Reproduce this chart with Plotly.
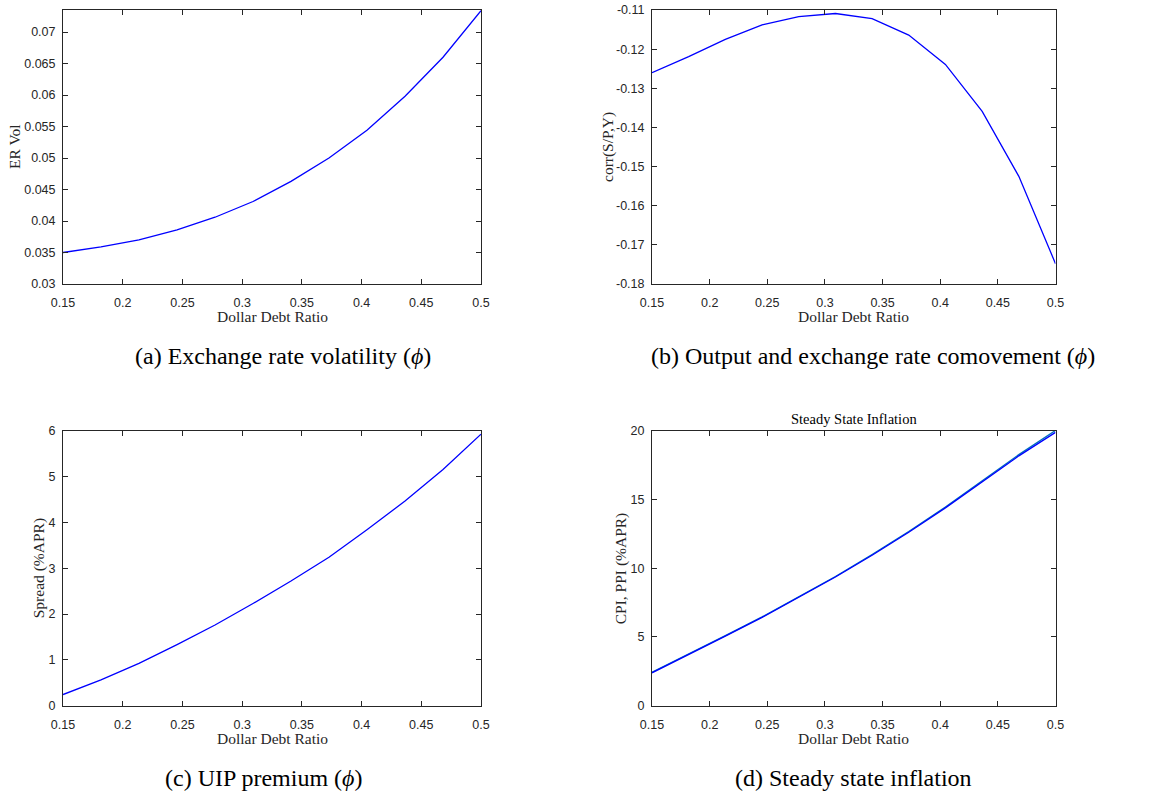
import plotly.graph_objects as go

# Dollar debt ratio grid (12 points, 0.15 .. 0.5)
dollar_debt_ratio = [0.15, 0.1818, 0.2136, 0.2455, 0.2773, 0.3091,
                     0.3409, 0.3727, 0.4045, 0.4364, 0.4682, 0.5]

er_vol = [0.0350, 0.0359, 0.0370, 0.0386, 0.0406, 0.0431,
          0.0463, 0.0500, 0.0544, 0.0598, 0.0660, 0.0734]

corr_sp_y = [-0.1260, -0.1219, -0.1175, -0.1138, -0.1117, -0.1109,
             -0.1122, -0.1164, -0.1239, -0.1359, -0.1525, -0.1748]

uip_spread = [0.24, 0.56, 0.92, 1.33, 1.76, 2.23,
              2.72, 3.24, 3.84, 4.47, 5.16, 5.93]

cpi_infl = [2.42, 3.74, 5.09, 6.46, 7.90, 9.40,
            11.00, 12.68, 14.46, 16.34, 18.28, 20.04]
ppi_infl = [2.38, 3.70, 5.05, 6.42, 7.86, 9.36,
            10.95, 12.62, 14.40, 16.27, 18.19, 19.90]

x_ticks = [0.15, 0.2, 0.25, 0.3, 0.35, 0.4, 0.45, 0.5]
x_ticktext = ["0.15", "0.2", "0.25", "0.3", "0.35", "0.4", "0.45", "0.5"]

W, H = 1150, 794

def px_x(p):
    return p / W

def px_y(p):
    return 1 - p / H

# Panel boxes in pixels: (left, right, top, bottom)
boxes = {
    "a": (63, 481, 10, 284),
    "b": (652, 1055.5, 10, 284),
    "c": (63, 481, 431, 705.5),
    "d": (652, 1055.5, 431, 705.5),
}

AX_COLOR = "#262626"
TICK_FONT = dict(family="Liberation Sans, Arial, sans-serif", size=12.5, color=AX_COLOR)
LABEL_FONT = dict(family="Liberation Serif, Times New Roman, serif", size=15.5, color=AX_COLOR)
CAP_FONT = dict(family="Liberation Serif, Times New Roman, serif", size=24, color="#000000")

fig = go.Figure()

panels = [
    ("a", [er_vol], ["#0000FF"], [0.03, 0.0735],
     [0.03, 0.035, 0.04, 0.045, 0.05, 0.055, 0.06, 0.065, 0.07],
     ["0.03", "0.035", "0.04", "0.045", "0.05", "0.055", "0.06", "0.065", "0.07"],
     "ER Vol", "(a) Exchange rate volatility (<i>ϕ</i>)"),
    ("b", [corr_sp_y], ["#0000FF"], [-0.18, -0.11],
     [-0.18, -0.17, -0.16, -0.15, -0.14, -0.13, -0.12, -0.11],
     ["-0.18", "-0.17", "-0.16", "-0.15", "-0.14", "-0.13", "-0.12", "-0.11"],
     "corr(S/P,Y)", "(b) Output and exchange rate comovement (<i>ϕ</i>)"),
    ("c", [uip_spread], ["#0000FF"], [0, 6],
     [0, 1, 2, 3, 4, 5, 6], ["0", "1", "2", "3", "4", "5", "6"],
     "Spread (%APR)", "(c) UIP premium (<i>ϕ</i>)"),
    ("d", [cpi_infl, ppi_infl], ["#0072BD", "#0000FF"], [0, 20],
     [0, 5, 10, 15, 20], ["0", "5", "10", "15", "20"],
     "CPI, PPI (%APR)", "(d) Steady state inflation"),
]

for i, (key, series, colors, yr, yt, ytt, ytitle, caption) in enumerate(panels, start=1):
    left, right, top, bottom = boxes[key]
    xa = "x" if i == 1 else f"x{i}"
    ya = "y" if i == 1 else f"y{i}"
    for s, c in zip(series, colors):
        fig.add_trace(go.Scatter(
            x=dollar_debt_ratio, y=s, mode="lines",
            line=dict(color=c, width=1.3),
            xaxis=xa, yaxis=ya, showlegend=False, hoverinfo="x+y",
        ))
    axis_common = dict(
        showline=True, linecolor=AX_COLOR, linewidth=1, mirror="ticks",
        ticks="inside", ticklen=5, tickcolor=AX_COLOR, tickwidth=1,
        showgrid=False, zeroline=False, tickfont=TICK_FONT, automargin=False,
    )
    fig.update_layout(**{
        ("xaxis" if i == 1 else f"xaxis{i}"): dict(
            domain=[px_x(left), px_x(right)], anchor=ya,
            range=[0.15, 0.5], tickvals=x_ticks, ticktext=x_ticktext,
            ticklabelstandoff=7, **axis_common),
        ("yaxis" if i == 1 else f"yaxis{i}"): dict(
            domain=[px_y(bottom), px_y(top)], anchor=xa,
            range=yr, tickvals=yt, ticktext=ytt,
            ticklabelstandoff=4, **axis_common),
    })
    cx = (left + right) / 2
    # x-axis label
    fig.add_annotation(text="Dollar Debt Ratio", x=px_x(cx), y=px_y(bottom + 33),
                       xref="paper", yref="paper", showarrow=False,
                       font=LABEL_FONT, xanchor="center", yanchor="middle")
    # y-axis label
    ylab_x = {"a": 14, "b": 608, "c": 39, "d": 621}[key]
    fig.add_annotation(text=ytitle, x=px_x(ylab_x), y=px_y((top + bottom) / 2),
                       xref="paper", yref="paper", showarrow=False, textangle=-90,
                       font=LABEL_FONT, xanchor="center", yanchor="middle")
    # caption below panel
    cap_cx = {"a": 283, "b": 873, "c": 263, "d": 853}[key]
    fig.add_annotation(text=caption, x=px_x(cap_cx), y=px_y(bottom + 72),
                       xref="paper", yref="paper", showarrow=False,
                       font=CAP_FONT, xanchor="center", yanchor="middle")

fig.add_annotation(text="Steady State Inflation", x=px_x(853.5), y=px_y(419),
                   xref="paper", yref="paper", showarrow=False,
                   font=dict(family="Liberation Serif, Times New Roman, serif", size=14.5, color="#000000"),
                   xanchor="center", yanchor="middle")

fig.update_layout(
    width=W, height=H, margin=dict(l=0, r=0, t=0, b=0),
    paper_bgcolor="white", plot_bgcolor="white",
)

fig.write_html("out.html")
